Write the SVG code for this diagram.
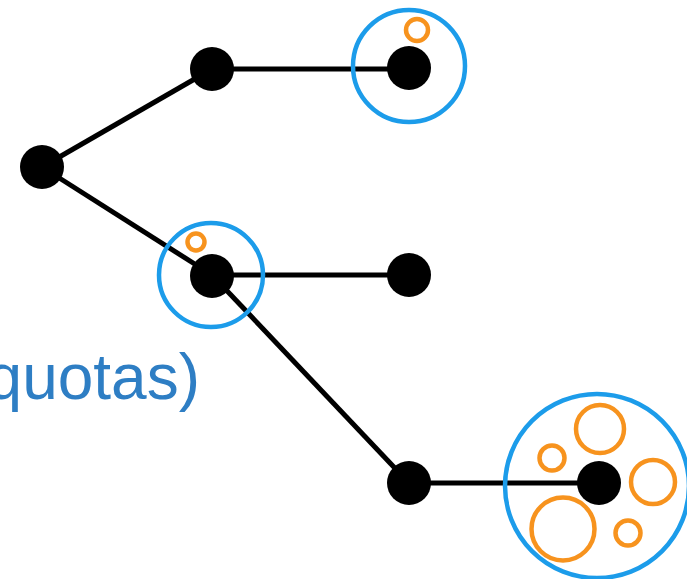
<svg xmlns="http://www.w3.org/2000/svg" width="687" height="579" viewBox="0 0 687 579">
<style>
.edge{stroke:#000;stroke-width:5;fill:none}
.node{fill:#000}
.group{fill:none;stroke:#1C9CEA;stroke-width:4.5}
.quota{fill:none;stroke:#F7931E;stroke-width:4.5}
.label{font-family:"Liberation Sans",Arial,sans-serif;font-size:64px;fill:#2E7EC4}
</style>
<rect width="687" height="579" fill="#fff"/>
<g id="connectors">
<line class="edge" x1="42" y1="167" x2="212" y2="69"/>
<line class="edge" x1="212" y1="69" x2="409" y2="69"/>
<line class="edge" x1="42" y1="167" x2="212" y2="275"/>
<line class="edge" x1="212" y1="275" x2="409" y2="275"/>
<line class="edge" x1="212" y1="275" x2="409" y2="483"/>
<line class="edge" x1="409" y1="483" x2="599" y2="483"/>
</g>
<g id="root"><circle class="node" cx="42" cy="167" r="22"/></g>
<g id="nodeA"><circle class="node" cx="212" cy="69" r="22"/></g>
<g id="nodeB">
<circle class="group" cx="409" cy="66" r="56"/>
<circle class="quota" cx="417" cy="30" r="11"/>
<circle class="node" cx="409" cy="68" r="22"/>
</g>
<g id="nodeC">
<circle class="group" cx="211" cy="275" r="52"/>
<circle class="quota" cx="196" cy="242" r="8.5"/>
<circle class="node" cx="212" cy="276" r="22"/>
</g>
<g id="nodeD"><circle class="node" cx="409" cy="275" r="22"/></g>
<g id="nodeE"><circle class="node" cx="409" cy="483" r="22"/></g>
<g id="nodeF">
<circle class="group" cx="597" cy="486" r="92"/>
<circle class="quota" cx="600" cy="429" r="24"/>
<circle class="quota" cx="552" cy="458" r="12.5"/>
<circle class="quota" cx="653" cy="482" r="22"/>
<circle class="quota" cx="563" cy="529" r="31.5"/>
<circle class="quota" cx="628" cy="533" r="12.5"/>
<circle class="node" cx="599" cy="483" r="22"/>
</g>
<g id="label"><text class="label" x="200" y="399" text-anchor="end">quotas)</text></g>
</svg>
